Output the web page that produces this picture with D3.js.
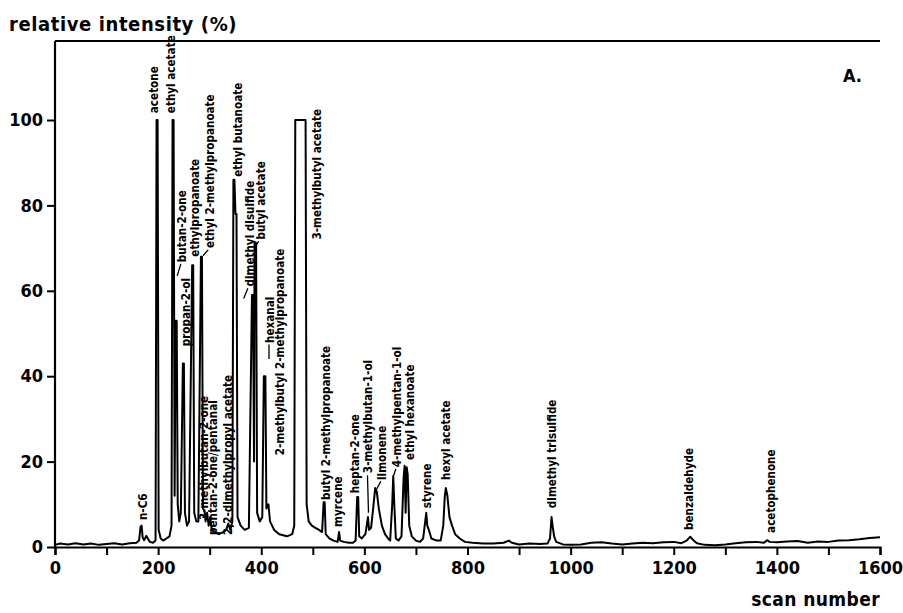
<!DOCTYPE html>
<html>
<head>
<meta charset="utf-8">
<script src="https://cdn.jsdelivr.net/npm/d3@7"></script>
<style>
  body { margin: 0; background: #fff; }
  svg text { font-family: "DejaVu Sans Condensed", "DejaVu Sans", sans-serif; fill: #000; font-weight: bold; }
</style>
</head>
<body>
<svg id="chart"></svg>
<script>
// chromatogram trace: [scan number, relative intensity %]
const trace = [
  [0,0.5],[10,0.8],[25,0.6],[40,0.9],[55,0.6],[70,0.8],[85,0.5],[100,0.7],[115,0.9],[130,0.6],[145,0.9],[158,1.0],
  [163,1.5],[166,4.8],[168,5.0],[170,2.2],[173,1.6],[177,2.6],[180,2.0],[184,1.2],[190,1.0],
  [195,1.5],[197,100],[199,100],[201,4],[205,2],[210,1.5],[216,2],[222,2.5],[226,5],
  [228,100],[230,100],[232,12],[234,53],[236,53],[238,10],[241,6],[244,8],[248,43],[250,43],[252,8],[256,5],[260,6],
  [266,66],[268,66],[270,8],[274,6],[278,6],[283,68],[285,68],[287,9],[290,8.5],[292,6],[295,8],[298,5],[301,7],[304,4],
  [310,3.5],[318,3],[326,3.5],[332,4],
  [336,5.5],[340,4],[344,6],[346,86],[348,86],[350,78],[352,78],[354,7],[360,5],[368,4],[376,4.5],
  [382,59],[384,59],[386,20],[387,71],[390,71],[392,8],[397,6],[402,7],[405,40],[408,40],[410,9],[414,10],[417,6],
  [425,4],[435,3],[450,2.5],[460,3],
  [464,5],[466,100],[486,100],[488,10],[492,6],[498,5],[505,4.5],[512,4],[518,3.5],
  [521,10.5],[523,10.5],[525,3],[532,2],[540,1.5],[548,1.2],[551,3.5],[553,1.5],[560,1.2],[570,1],[578,1],[583,1.5],
  [586,11.7],[588,11.7],[590,2.5],[595,2],[602,3],[607,7],[609,4],[613,4.5],[617,9],[621,13.8],[624,13],[628,9],[634,5],
  [640,3],[646,2],[650,1.5],
  [654,10],[656,16.6],[658,10],[661,2],[666,1.5],[672,2.5],[676,16],[678,19],[680,8],[682,18.7],[684,17],[687,5],
  [692,2.5],[700,1.5],[708,1.2],[714,2],
  [718,6],[720,8],[722,5],[725,4],[730,2],[740,1.5],[748,1.5],[753,5],[756,12],[758,13.8],[761,12],[765,7],[770,5],
  [776,3],[785,2],[795,1.2],[810,1],[830,0.8],[850,0.8],[870,1.0],[880,1.5],[886,1],[900,0.6],[920,0.8],[940,0.7],[955,0.8],
  [960,2],[963,7],[965,5],[968,2.5],[972,1.2],[985,0.6],[1000,0.5],[1020,0.6],[1040,1],[1060,1.1],[1080,0.8],[1100,0.6],
  [1120,0.8],[1140,1.0],[1160,0.9],[1180,1.1],[1200,1.2],[1215,0.9],
  [1225,1.5],[1232,2.4],[1238,1.6],[1245,0.9],[1260,0.5],[1280,0.4],[1300,0.6],[1320,0.9],[1340,1.1],[1360,1.2],
  [1375,1.0],[1381,1.6],[1386,1.2],[1400,1.1],[1420,1.3],[1440,1.4],[1460,1.0],[1480,1.3],[1500,1.2],[1520,1.5],
  [1540,1.6],[1560,1.8],[1580,2.1],[1600,2.3]
];

// peak labels: [name, scan where the label stands, intensity at the label foot]
const peakLabels = [
  ['n-C6', 171, 6.3],
  ['acetone', 192, 101.6],
  ['ethyl acetate', 225, 101.6],
  ['butan-2-one', 246, 66.7],
  ['propan-2-ol', 254, 47],
  ['ethylpropanoate', 271, 68],
  ['ethyl 2-methylpropanoate', 301, 70],
  ['3-methylbutan-2-one', 288, 6.3],
  ['pentan-2-one/pentanal', 307, 2.8],
  ['2,2-dimethylpropyl acetate', 336, 2.8],
  ['ethyl butanoate', 355, 86.7],
  ['dimethyl disulfide', 378, 61],
  ['butyl acetate', 400, 72],
  ['hexanal', 417, 47.8],
  ['2-methylbutyl 2-methylpropanoate', 436, 21.5],
  ['3-methylbutyl acetate', 508, 72],
  ['butyl 2-methylpropanoate', 526, 11],
  ['myrcene', 549, 4.7],
  ['heptan-2-one', 582, 12.6],
  ['3-methylbutan-1-ol', 607, 17.3],
  ['limonene', 634, 15.7],
  ['4-methylpentan-1-ol', 663, 18.7],
  ['ethyl hexanoate', 688, 20.4],
  ['styrene', 721, 9.1],
  ['hexyl acetate', 758, 15.7],
  ['dimethyl trisulfide', 964, 9.1],
  ['benzaldehyde', 1230, 4],
  ['acetophenone', 1389, 3.3]
];

// short leader strokes from a label foot to its peak: [scan1, int1, scan2, int2]
const leaders = [
  [244, 66.3, 237, 63.5],
  [297, 69.6, 287, 68.2],
  [374, 60.6, 366, 58.2],
  [395, 71.6, 391, 70.8],
  [415, 47.4, 415, 44],
  [606, 16.8, 608, 8],
  [632, 15.4, 624, 13.6],
  [661, 18.3, 657, 16.8]
];

const xTicks = d3.range(0, 1601, 100);
const yTicks = [0, 20, 40, 60, 80, 100];

const width = 903, height = 613;
const svg = d3.select('#chart').attr('width', width).attr('height', height);

const x = d3.scaleLinear().domain([0, 1600]).range([55, 880]);
const y = d3.scaleLinear().domain([0, 100]).range([547, 120]);
const yTop = 118.5;

// frame: top line and left line
svg.append('line')
  .attr('x1', x(0)).attr('x2', x(1600))
  .attr('y1', y(yTop)).attr('y2', y(yTop))
  .attr('stroke', '#000').attr('stroke-width', 2.2);
svg.append('line')
  .attr('x1', x(0)).attr('x2', x(0))
  .attr('y1', y(yTop)).attr('y2', y(0))
  .attr('stroke', '#000').attr('stroke-width', 2.2);

const xAxis = d3.axisBottom(x)
  .tickValues(xTicks)
  .tickSize(8)
  .tickPadding(6)
  .tickFormat(d => d % 200 === 0 ? d : '');
const xAxisG = svg.append('g')
  .attr('transform', `translate(0,${y(0)})`)
  .call(xAxis);

const yAxis = d3.axisLeft(y)
  .tickValues(yTicks)
  .tickSize(8)
  .tickPadding(4);
const yAxisG = svg.append('g')
  .attr('transform', `translate(${x(0)},0)`)
  .call(yAxis);

[xAxisG, yAxisG].forEach(g => {
  g.select('.domain').attr('stroke-width', 2.2);
  g.selectAll('.tick line').attr('stroke-width', 2);
  g.selectAll('.tick text')
    .style('font-family', '"DejaVu Sans Condensed", "DejaVu Sans", sans-serif')
    .style('font-weight', 'bold')
    .style('font-size', '18px')
    .attr('fill', '#000');
});
yAxisG.select('.domain').remove();

// the trace
const line = d3.line()
  .x(d => x(d[0]))
  .y(d => y(d[1]));
svg.append('path')
  .datum(trace)
  .attr('d', line)
  .attr('fill', 'none')
  .attr('stroke', '#000')
  .attr('stroke-width', 2)
  .attr('stroke-linejoin', 'round');

// leaders
svg.selectAll('.leader')
  .data(leaders)
  .join('line')
  .attr('class', 'leader')
  .attr('x1', d => x(d[0])).attr('y1', d => y(d[1]))
  .attr('x2', d => x(d[2])).attr('y2', d => y(d[3]))
  .attr('stroke', '#000')
  .attr('stroke-width', 1.3);

// peak names, written upward
svg.selectAll('.peak-label')
  .data(peakLabels)
  .join('text')
  .attr('class', 'peak-label')
  .attr('transform', d => `translate(${x(d[1])},${y(d[2])}) rotate(-90)`)
  .attr('dy', '0.35em')
  .style('font-size', '11.6px')
  .text(d => d[0]);

// axis titles
svg.append('text')
  .attr('x', 9).attr('y', 31)
  .style('font-size', '20px')
  .style('letter-spacing', '0.6px')
  .text('relative intensity (%)');
svg.append('text')
  .attr('x', 880).attr('y', 606)
  .attr('text-anchor', 'end')
  .style('font-size', '19px')
  .style('letter-spacing', '0.4px')
  .text('scan number');
svg.append('text')
  .attr('x', 843).attr('y', 82)
  .style('font-size', '18px')
  .text('A.');
</script>
</body>
</html>
